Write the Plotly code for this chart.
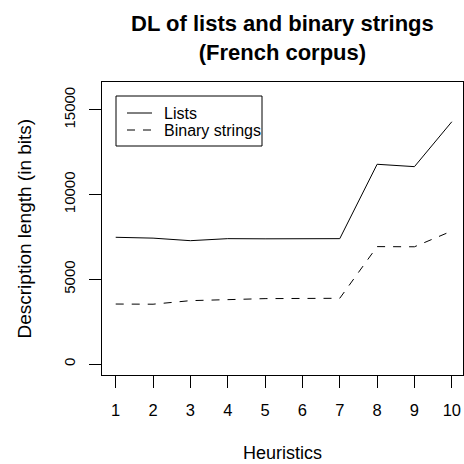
import plotly.graph_objects as go

heuristics = [1, 2, 3, 4, 5, 6, 7, 8, 9, 10]
lists_dl = [7480, 7430, 7280, 7400, 7390, 7400, 7400, 11790, 11650, 14300]
binary_dl = [3540, 3530, 3740, 3800, 3860, 3870, 3880, 6930, 6920, 7850]
y_ticks = [0, 5000, 10000, 15000]
x_ticks = heuristics
series_names = ["Lists", "Binary strings"]

FONT = "Liberation Sans, Arial, Helvetica, sans-serif"
W, H = 464, 464
ML, MR, MT, MB = 102, 1, 82, 89
PW, PH = W - ML - MR, H - MT - MB


def px_x(p):
    return (p - ML) / PW


def px_y(p):
    return (H - MB - p) / PH


fig = go.Figure()
fig.add_trace(go.Scatter(x=heuristics, y=lists_dl, mode="lines", name=series_names[0],
                         line=dict(color="black", width=1), showlegend=False))
fig.add_trace(go.Scatter(x=heuristics, y=binary_dl, mode="lines", name=series_names[1],
                         line=dict(color="black", width=1, dash="8px,8px"), showlegend=False))

# legend box (drawn like R's legend())
shapes = [
    dict(type="rect", xref="paper", yref="paper", x0=px_x(116), x1=px_x(262),
         y0=px_y(146), y1=px_y(96), line=dict(color="black", width=1), fillcolor="white",
         layer="above"),
    dict(type="line", xref="paper", yref="paper", x0=px_x(127), x1=px_x(152),
         y0=px_y(113), y1=px_y(113), line=dict(color="black", width=1), layer="above"),
    dict(type="line", xref="paper", yref="paper", x0=px_x(127), x1=px_x(152),
         y0=px_y(130), y1=px_y(130), line=dict(color="black", width=1, dash="8px,8px"),
         layer="above"),
]

annotations = [
    dict(text="<b>DL of lists and binary strings<br>(French corpus)</b>",
         xref="paper", yref="paper", x=0.5, y=1, yshift=44, xanchor="center",
         yanchor="middle", showarrow=False, font=dict(size=22)),
    dict(text="Heuristics", xref="paper", yref="paper", x=0.5, y=0, yshift=-78,
         xanchor="center", yanchor="middle", showarrow=False, font=dict(size=18)),
    dict(text="Description length (in bits)", xref="paper", yref="paper", x=0, y=0.5,
         xshift=-78, xanchor="center", yanchor="middle", textangle=-90,
         showarrow=False, font=dict(size=19)),
    dict(text=series_names[0], xref="paper", yref="paper", x=px_x(162), y=px_y(113),
         xanchor="left", yanchor="middle", showarrow=False, font=dict(size=16)),
    dict(text=series_names[1], xref="paper", yref="paper", x=px_x(162), y=px_y(130),
         xanchor="left", yanchor="middle", showarrow=False, font=dict(size=16)),
]

fig.update_layout(
    width=W, height=H,
    margin=dict(l=ML, r=MR, t=MT, b=MB),
    paper_bgcolor="white", plot_bgcolor="white",
    font=dict(family=FONT, size=16, color="black"),
    showlegend=False,
    shapes=shapes,
    annotations=annotations,
    xaxis=dict(range=[0.633, 10.30], tickvals=x_ticks, ticktext=[str(v) for v in x_ticks],
               showgrid=False, zeroline=False, showline=True, mirror=True,
               linecolor="black", linewidth=1, ticks="outside", ticklen=12,
               tickcolor="black", tickwidth=1, ticklabelstandoff=8,
               tickfont=dict(size=16.5)),
    yaxis=dict(range=[-649, 16647], tickvals=y_ticks, ticktext=[str(v) for v in y_ticks],
               showgrid=False, zeroline=False, showline=True, mirror=True,
               linecolor="black", linewidth=1, ticks="outside", ticklen=12,
               tickcolor="black", tickwidth=1, tickangle=-90, ticklabelstandoff=8,
               tickfont=dict(size=15)),
)

fig.write_html("out.html")
